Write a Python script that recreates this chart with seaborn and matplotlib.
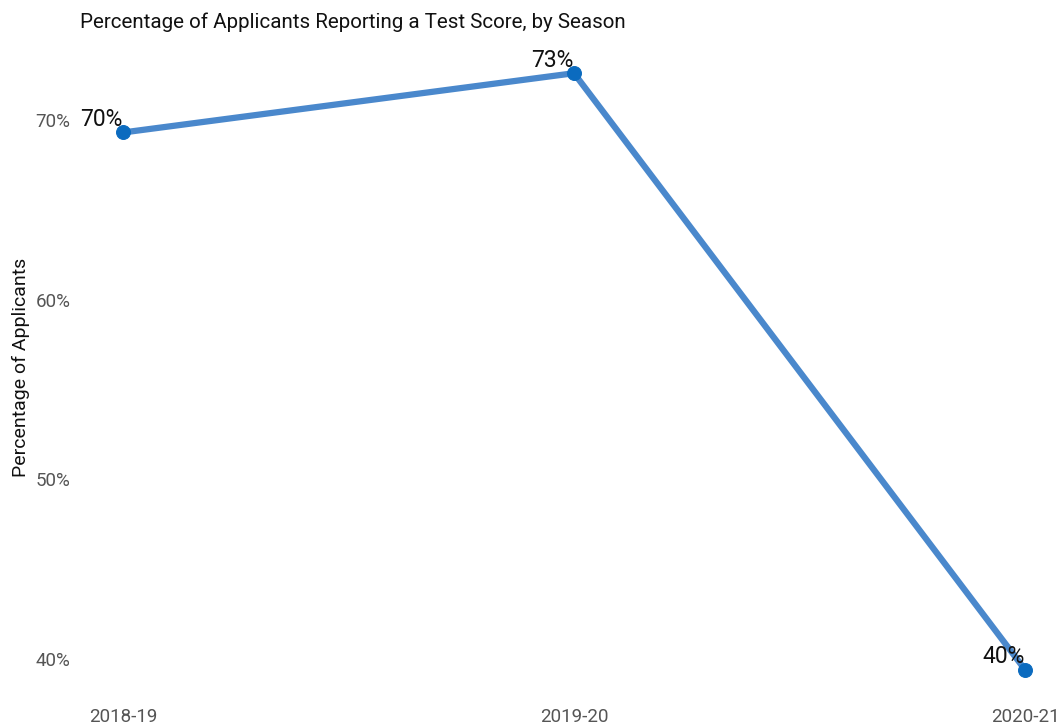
import matplotlib
matplotlib.use("Agg")
import matplotlib.pyplot as plt
import seaborn as sns
import pandas as pd

# Dados
temporadas = ["2018-19", "2019-20", "2020-21"]
percentuais = [69.3, 72.6, 39.4]
rotulos = ["70%", "73%", "40%"]
ticks_y = [40, 50, 60, 70]

df = pd.DataFrame({"temporada": temporadas, "pct": percentuais})
df["pos"] = range(len(df))

sns.set_style("white")
plt.rcParams["font.family"] = ["Roboto", "DejaVu Sans"]

fig = plt.figure(figsize=(10.6, 7.25), dpi=100)
ax = fig.add_axes([80 / 1060, 35 / 725, 970 / 1060, 645 / 725])

sns.lineplot(data=df, x="pos", y="pct", ax=ax, color="#4a88cc", linewidth=4.5,
             marker="o", markersize=10, markerfacecolor="#0b6bbf",
             markeredgecolor="#0b6bbf", clip_on=False)

# rótulos de valor acima e à esquerda de cada ponto
for x, y, r in zip(df["pos"], df["pct"], rotulos):
    ax.annotate(r, (x, y), xytext=(0, 1), textcoords="offset points",
                ha="right", va="bottom", fontsize=16.5, color="#111111")

ax.set_xlim(-0.0953, 2.0554)
ax.set_ylim(38.27, 74.17)
ax.set_xticks(df["pos"])
ax.set_xticklabels(temporadas)
ax.set_yticks(ticks_y)
ax.set_yticklabels([f"{t}%" for t in ticks_y])
ax.tick_params(axis="both", labelsize=13.5, colors="#555555", length=0)
ax.tick_params(axis="x", pad=13)
ax.tick_params(axis="y", pad=7)
for s in ax.spines.values():
    s.set_visible(False)
ax.grid(False)

ax.set_xlabel("")
ax.set_ylabel("Percentage of Applicants", fontsize=14, color="#111111", labelpad=4)
fig.text(80 / 1060, 1 - 22 / 725, "Percentage of Applicants Reporting a Test Score, by Season",
         ha="left", va="center", fontsize=14.8, color="#111111")

fig.savefig("out.png", dpi=100)
